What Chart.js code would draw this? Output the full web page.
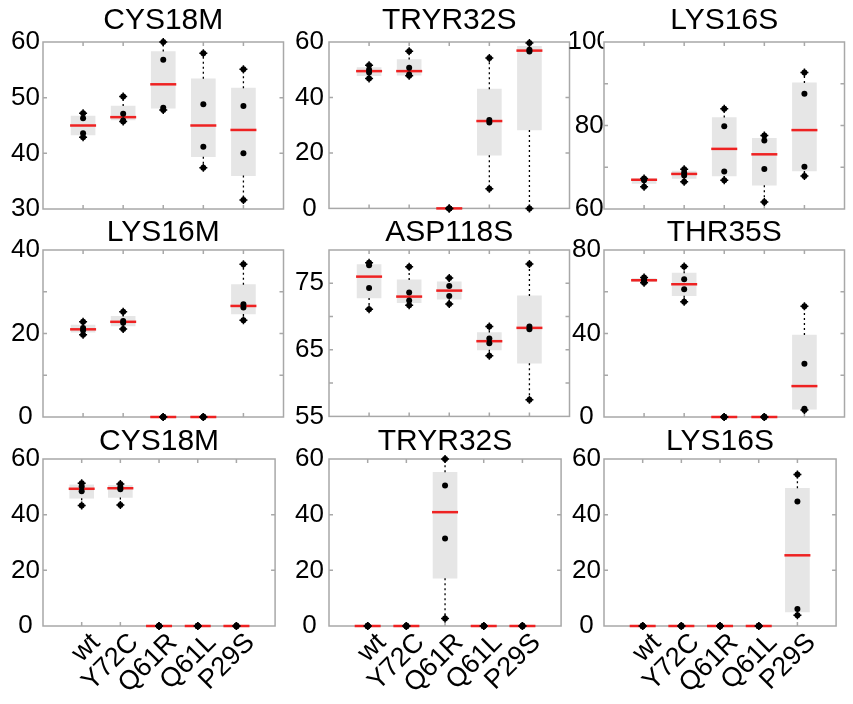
<!DOCTYPE html>
<html lang="en">
<head>
    <meta charset="UTF-8">
    <title>Box plots</title>
    <style>
        body {
            margin: 0;
            background: #fff;
        }
        #wrap {
            position: relative;
            width: 853px;
            height: 704px;
            overflow: hidden;
        }
        #wrap canvas {
            position: absolute;
        }
    </style>
</head>
<body>
    <div id="wrap"></div>

    <script src="https://cdn.jsdelivr.net/npm/chart.js"></script>
    <script>

const categories = ['wt', 'Y72C', 'Q61R', 'Q61L', 'P29S'];
const titles = ['CYS18M', 'TRYR32S', 'LYS16S', 'LYS16M', 'ASP118S', 'THR35S', 'CYS18M', 'TRYR32S', 'LYS16S'];

// y axis per panel
const yMins = [30, 0, 60, 0, 55, 0, 0, 0, 0];
const yMaxs = [60, 60, 100, 40, 80, 80, 60, 60, 60];
const ySteps = [5, 10, 10, 10, 5, 20, 10, 10, 10];
const yLabelled = [[30, 40, 50, 60], [0, 20, 40, 60], [60, 80, 100], [0, 20, 40], [55, 65, 75], [0, 40, 80], [0, 20, 40, 60], [0, 20, 40, 60], [0, 20, 40, 60]];

// row 1
const cys18mTopPoints = [[47.2, 46.3, 43.6, 42.9], [50.2, 47.1, 45.9, 45.7], [60.0, 56.8, 48.2, 47.8], [58.0, 48.8, 41.2, 37.4], [55.1, 48.5, 40.0, 31.6]];
const cys18mTopQ1 = [43.3, 46.0, 48.1, 39.4, 36.0];
const cys18mTopMedian = [45.0, 46.5, 52.4, 45.0, 44.2];
const cys18mTopQ3 = [46.7, 48.5, 58.3, 53.4, 51.7];

const tryr32sTopPoints = [[51.6, 50.0, 49.0, 46.8], [56.7, 50.7, 48.3, 47.8], [0, 0, 0, 0], [54.2, 31.9, 31.0, 7.1], [59.6, 57.2, 56.6, 0]];
const tryr32sTopQ1 = [47.9, 48.0, 0, 19.2, 28.3];
const tryr32sTopMedian = [49.5, 49.5, 0, 31.5, 56.9];
const tryr32sTopQ3 = [50.8, 53.7, 0, 43.0, 58.4];

const lys16sTopPoints = [[67.3, 67.1, 66.9, 65.3], [69.5, 68.7, 68.0, 66.5], [84.0, 79.8, 69.0, 66.9], [77.6, 76.4, 69.6, 61.7], [92.7, 87.6, 70.1, 67.9]];
const lys16sTopQ1 = [66.1, 67.3, 67.9, 65.7, 69.1];
const lys16sTopMedian = [67.0, 68.4, 74.4, 73.1, 78.9];
const lys16sTopQ3 = [67.2, 69.1, 81.9, 76.9, 90.2];

// row 2
const lys16mPoints = [[22.8, 21.3, 20.8, 19.7], [25.2, 23.0, 22.6, 21.1], [0, 0, 0, 0], [0, 0, 0, 0], [36.6, 27.0, 26.2, 23.2]];
const lys16mQ1 = [20.3, 21.8, 0, 0, 24.7];
const lys16mMedian = [21.0, 22.8, 0, 0, 26.6];
const lys16mQ3 = [22.0, 24.1, 0, 0, 31.7];

const asp118sPoints = [[78.1, 77.7, 74.3, 71.1], [77.5, 73.6, 72.4, 71.7], [75.8, 74.6, 73.1, 71.9], [68.5, 66.7, 66.0, 64.1], [77.9, 68.5, 68.1, 57.5]];
const asp118sQ1 = [72.8, 72.1, 72.6, 65.0, 63.0];
const asp118sMedian = [76.0, 73.0, 73.9, 66.3, 68.3];
const asp118sQ3 = [77.8, 75.5, 75.2, 67.6, 73.1];

const thr35sPoints = [[66.8, 65.8, 65.2, 64.3], [72.1, 66.0, 61.2, 55.2], [0, 0, 0, 0], [0, 0, 0, 0], [53.0, 25.5, 4.0, 3.3]];
const thr35sQ1 = [64.8, 58.1, 0, 0, 3.7];
const thr35sMedian = [65.5, 63.6, 0, 0, 14.8];
const thr35sQ3 = [66.3, 68.9, 0, 0, 39.3];

// row 3
const cys18mBotPoints = [[51.3, 50.1, 48.4, 43.3], [51.0, 49.9, 49.1, 43.5], [0, 0, 0, 0], [0, 0, 0, 0], [0, 0, 0, 0]];
const cys18mBotQ1 = [45.9, 46.2, 0, 0, 0];
const cys18mBotMedian = [49.3, 49.5, 0, 0, 0];
const cys18mBotQ3 = [50.7, 50.5, 0, 0, 0];

const tryr32sBotPoints = [[0, 0, 0, 0], [0, 0, 0, 0], [60.0, 50.5, 31.4, 2.7], [0, 0, 0, 0], [0, 0, 0, 0]];
const tryr32sBotQ1 = [0, 0, 17.2, 0, 0];
const tryr32sBotMedian = [0, 0, 40.9, 0, 0];
const tryr32sBotQ3 = [0, 0, 55.2, 0, 0];

const lys16sBotPoints = [[0, 0, 0, 0], [0, 0, 0, 0], [0, 0, 0, 0], [0, 0, 0, 0], [54.4, 44.7, 6.1, 3.9]];
const lys16sBotQ1 = [0, 0, 0, 0, 5.1];
const lys16sBotMedian = [0, 0, 0, 0, 25.4];
const lys16sBotQ3 = [0, 0, 0, 0, 49.5];

const panelPoints = [cys18mTopPoints, tryr32sTopPoints, lys16sTopPoints, lys16mPoints, asp118sPoints, thr35sPoints, cys18mBotPoints, tryr32sBotPoints, lys16sBotPoints];
const panelQ1 = [cys18mTopQ1, tryr32sTopQ1, lys16sTopQ1, lys16mQ1, asp118sQ1, thr35sQ1, cys18mBotQ1, tryr32sBotQ1, lys16sBotQ1];
const panelMedian = [cys18mTopMedian, tryr32sTopMedian, lys16sTopMedian, lys16mMedian, asp118sMedian, thr35sMedian, cys18mBotMedian, tryr32sBotMedian, lys16sBotMedian];
const panelQ3 = [cys18mTopQ3, tryr32sTopQ3, lys16sTopQ3, lys16mQ3, asp118sQ3, thr35sQ3, cys18mBotQ3, tryr32sBotQ3, lys16sBotQ3];

// layout
const colLeft = [43, 329, 604];
const rowTop = [42, 250, 459];
const titleGap = [21, 17, 17];
const plotW = 252, plotH = 167;
const axisW = 43, titleH = 38, rightPad = 4;
const fontFamily = "'Liberation Sans', Arial, Helvetica, sans-serif";

Chart.defaults.font.family = fontFamily;
Chart.defaults.color = '#000';

// grey box round the plot, small inward ticks, and the panel title
const framePlugin = {
    id: 'frame',
    beforeDatasetsDraw(chart) {
        const {ctx, chartArea: a, scales: {x, y}} = chart;
        ctx.save();
        ctx.strokeStyle = '#a8a8a8';
        ctx.lineWidth = 1.5;
        ctx.strokeRect(a.left, a.top, a.width, a.height);
        ctx.beginPath();
        x.ticks.forEach(t => {
            if (t.value <= x.min || t.value >= x.max) return;
            const px = x.getPixelForValue(t.value);
            ctx.moveTo(px, a.top); ctx.lineTo(px, a.top + 4);
            ctx.moveTo(px, a.bottom); ctx.lineTo(px, a.bottom - 4);
        });
        y.ticks.forEach(t => {
            if (t.value <= y.min || t.value >= y.max) return;
            const py = y.getPixelForValue(t.value);
            ctx.moveTo(a.left, py); ctx.lineTo(a.left + 4, py);
            ctx.moveTo(a.right, py); ctx.lineTo(a.right - 4, py);
        });
        ctx.stroke();
        ctx.restore();
    },
    afterDraw(chart, args, opts) {
        const {ctx, chartArea: a} = chart;
        ctx.save();
        ctx.font = '30px ' + fontFamily;
        ctx.fillStyle = '#000';
        ctx.textAlign = 'center';
        ctx.textBaseline = 'middle';
        ctx.fillText(opts.text, (a.left + a.right) / 2, a.top - opts.gap);
        ctx.restore();
    }
};

function makePanel(p) {
    const row = Math.floor(p / 3), col = p % 3;
    const bottomRow = row === 2;
    const bottomH = bottomRow ? 78 : 20;
    const canvas = document.createElement('canvas');
    canvas.width = axisW + plotW + rightPad;
    canvas.height = titleH + plotH + bottomH;
    canvas.style.left = (colLeft[col] - axisW) + 'px';
    canvas.style.top = (rowTop[row] - titleH) + 'px';
    document.getElementById('wrap').appendChild(canvas);

    const pts = panelPoints[p];
    const boxes = categories.map((c, i) => ({x: i + 1, y: [panelQ1[p][i], panelQ3[p][i]]}));
    const medians = categories.map((c, i) => ({x: i + 1, y: panelMedian[p][i]}));
    const dots = [];
    const caps = [];
    const whiskers = [];
    pts.forEach((list, i) => {
        list.forEach(v => dots.push({x: i + 1, y: v}));
        const hi = Math.max(...list), lo = Math.min(...list);
        caps.push({x: i + 1, y: hi}, {x: i + 1, y: lo});
        whiskers.push({x: i + 1, y: panelQ3[p][i]}, {x: i + 1, y: hi}, {x: i + 1, y: null});
        whiskers.push({x: i + 1, y: panelQ1[p][i]}, {x: i + 1, y: lo}, {x: i + 1, y: null});
    });

    let tickPad = col === 1 ? 5 : 3;
    if (p === 2) tickPad = -7;

    new Chart(canvas.getContext('2d'), {
        type: 'scatter',
        data: {
            datasets: [
                {type: 'bar', data: boxes, backgroundColor: '#e6e6e6', borderWidth: 0, barThickness: 24, order: 5},
                {type: 'line', data: whiskers, borderColor: '#000', borderWidth: 1.3, borderDash: [2, 3], pointRadius: 0, spanGaps: false, fill: false, order: 4, clip: false},
                {data: medians, pointStyle: 'line', pointRadius: 13, borderColor: '#ee2222', borderWidth: 2.5, order: 3, clip: false},
                {data: caps, pointStyle: 'cross', pointRadius: 4, borderColor: '#000', borderWidth: 1.5, order: 2, clip: false},
                {data: dots, pointStyle: 'circle', pointRadius: 3, backgroundColor: '#000', borderColor: '#000', borderWidth: 0, order: 1, clip: false}
            ]
        },
        options: {
            responsive: false,
            animation: false,
            events: [],
            layout: {padding: {top: titleH, right: rightPad}},
            plugins: {
                legend: {display: false},
                tooltip: {enabled: false},
                frame: {text: titles[p], gap: titleGap[row]}
            },
            scales: {
                x: {
                    type: 'linear',
                    min: 0,
                    max: 6,
                    offset: false,
                    grid: {display: false, drawTicks: false},
                    border: {display: false},
                    afterFit: s => { s.height = bottomH; },
                    ticks: {
                        display: bottomRow,
                        stepSize: 1,
                        autoSkip: false,
                        minRotation: 45,
                        maxRotation: 45,
                        padding: 1,
                        labelOffset: 14,
                        font: {size: 27},
                        callback: v => (v >= 1 && v <= 5) ? categories[v - 1] : ''
                    }
                },
                y: {
                    min: yMins[p],
                    max: yMaxs[p],
                    grid: {display: false, drawTicks: false},
                    border: {display: false},
                    afterFit: s => { s.width = axisW; },
                    ticks: {
                        stepSize: ySteps[p],
                        crossAlign: 'center',
                        padding: tickPad,
                        font: {size: 26},
                        callback: v => yLabelled[p].includes(v) ? v : ''
                    }
                }
            }
        },
        plugins: [framePlugin]
    });
}

for (let p = 0; p < 9; p++) makePanel(p);

    </script>
</body>
</html>
